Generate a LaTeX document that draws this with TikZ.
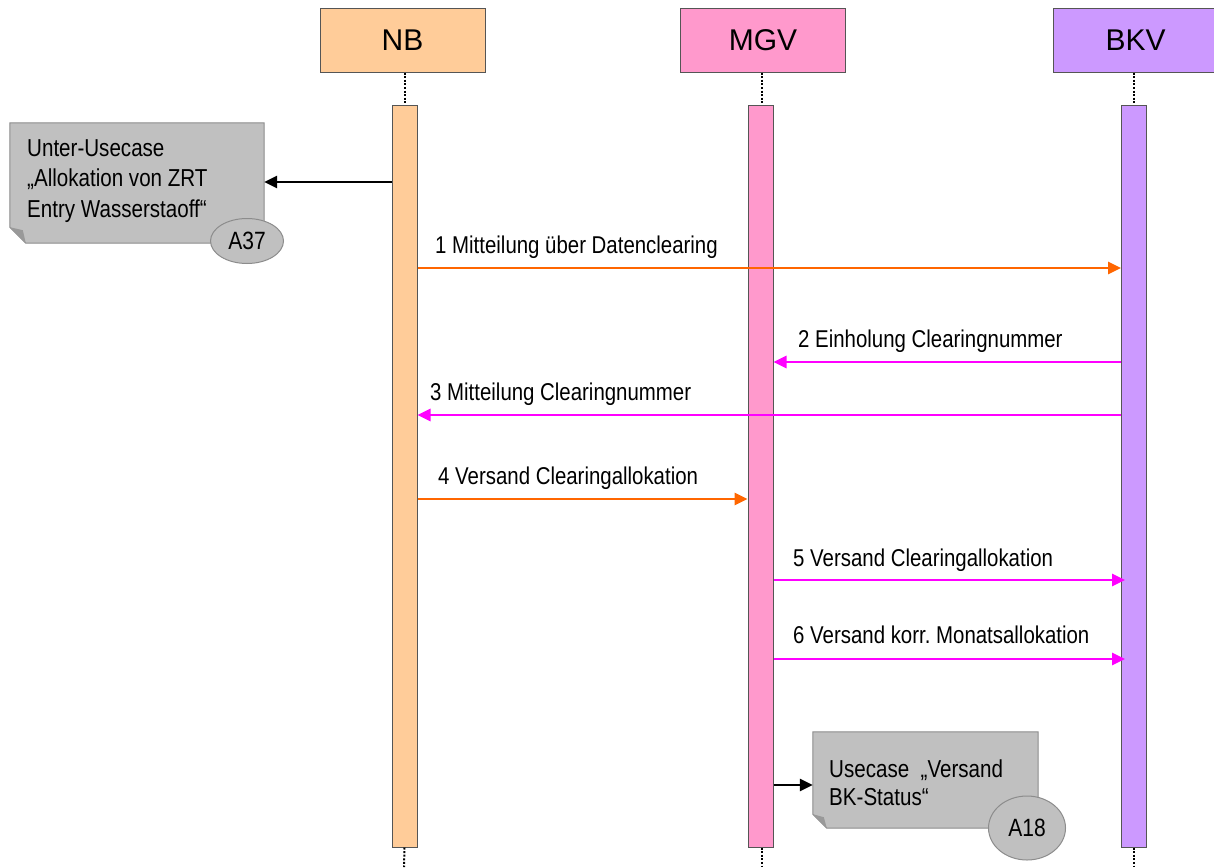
\documentclass[tikz,border=0pt]{standalone}
\usepackage{fontspec}
\setmainfont{Liberation Sans}
\newfontfamily\narrowsans{Liberation Sans}[FakeStretch=0.84]
\usetikzlibrary{arrows.meta,shapes.geometric}
\definecolor{nbc}{HTML}{FFCC99}
\definecolor{mgvc}{HTML}{FF99CC}
\definecolor{bkvc}{HTML}{CC99FF}
\definecolor{orangeline}{HTML}{FF6600}
\definecolor{magline}{HTML}{FF00FF}
\definecolor{notegray}{HTML}{C0C0C0}
\definecolor{noteborder}{HTML}{8C8C8C}
\definecolor{boxborder}{HTML}{555555}
\frenchspacing
\begin{document}
\begin{tikzpicture}[x=1pt,y=-1pt,
  hdr/.style={draw=boxborder,line width=1pt,inner sep=0pt,minimum width=165pt,minimum height=63pt,
    font=\fontsize{30}{34}\selectfont},
  actbar/.style={draw=boxborder,line width=1pt,inner sep=0pt,minimum width=25pt,minimum height=742pt},
  lifeline/.style={line width=2pt,dash pattern=on 2pt off 1.6pt},
  msglabel/.style={anchor=base west,inner sep=0pt,font=\narrowsans\fontsize{24.3}{28}\selectfont},
  msgorange/.style={draw=orangeline,line width=2.7pt,-{Triangle[length=13pt,width=12pt]}},
  msgmag/.style={draw=magline,line width=2.7pt,-{Triangle[length=13pt,width=12pt]}},
  callarrow/.style={draw=black,line width=2.7pt,-{Triangle[length=13pt,width=12pt]}},
  notearea/.style={draw=none,fill=none,inner sep=0pt},
  notetext/.style={anchor=base west,inner sep=0pt,align=left,font=\narrowsans\fontsize{24.5}{30.5}\selectfont},
  refoval/.style={ellipse,draw=noteborder,fill=notegray,line width=1pt,inner sep=0pt,font=\narrowsans\fontsize{25}{28}\selectfont}
]
\useasboundingbox (0,0) rectangle (1214,867);

% headers
\node[hdr,fill=nbc] (nb) at (402.5,40.5) {NB};
\node[hdr,fill=mgvc] (mgv) at (763,40.5) {MGV};
\node[hdr,fill=bkvc] (bkv) at (1135.5,40.5) {BKV};

% activation bars
\node[actbar,fill=nbc] (nbbar) at (404.5,476) {};
\node[actbar,fill=mgvc] (mgvbar) at (760.5,476) {};
\node[actbar,fill=bkvc] (bkvbar) at (1134,476) {};

% lifelines
\coordinate (nbend) at (404,867);
\coordinate (mgvend) at (762,867);
\coordinate (bkvend) at (1134,867);
\draw[lifeline] (nb.south -| nbbar.north) -- (nbbar.north);
\draw[lifeline] (nbbar.south) -- (nbend);
\draw[lifeline] (mgv.south -| mgvend) -- (mgvbar.north -| mgvend);
\draw[lifeline] (mgvbar.south -| mgvend) -- (mgvend);
\draw[lifeline] (bkv.south -| bkvbar.north) -- (bkvbar.north);
\draw[lifeline] (bkvbar.south) -- (bkvend);

% note A37
\node[notearea,minimum width=254pt,minimum height=120pt] (n37) at (137,183) {};
\fill[notegray] (n37.north west) -- (n37.north east) -- (n37.south east) -- ([xshift=16pt]n37.south west) -- ([yshift=16pt]n37.south west) -- cycle;
\draw[noteborder,line width=1pt] (n37.north west) -- (n37.north east) -- (n37.south east) -- ([xshift=16pt]n37.south west) -- ([yshift=16pt]n37.south west) -- cycle;
\fill[gray!80] ([yshift=16pt]n37.south west) -- ([xshift=16pt]n37.south west) -- ([xshift=13pt,yshift=13pt]n37.south west) -- cycle;
\node[notetext] (t37) at (27,217) {Unter-Usecase\\„Allokation von ZRT\\Entry Wasserstaoff“};
\node[refoval,minimum width=73pt,minimum height=45pt] (e37) at (247,241) {A37};

% note A18
\node[notearea,minimum width=225pt,minimum height=96pt] (n18) at (925.5,780) {};
\fill[notegray] (n18.north west) -- (n18.north east) -- (n18.south east) -- ([xshift=14pt]n18.south west) -- ([yshift=14pt]n18.south west) -- cycle;
\draw[noteborder,line width=1pt] (n18.north west) -- (n18.north east) -- (n18.south east) -- ([xshift=14pt]n18.south west) -- ([yshift=14pt]n18.south west) -- cycle;
\fill[gray!80] ([yshift=14pt]n18.south west) -- ([xshift=14pt]n18.south west) -- ([xshift=11pt,yshift=11pt]n18.south west) -- cycle;
\node[notetext,font=\narrowsans\fontsize{24.5}{28}\selectfont] (t18) at (829,805) {Usecase \ „Versand\\BK-Status“};
\node[refoval,minimum width=77pt,minimum height=64pt] (e18) at (1027,828) {A18};

% call arrows to notes
\draw[callarrow] (nbbar.west |- 0,182) -- (n37.east |- 0,182);
\draw[callarrow] (mgvbar.east |- 0,785) -- (n18.west |- 0,785);

% messages
\draw[msgorange] (nbbar.east |- 0,268) -- (bkvbar.west |- 0,268);
\node[msglabel] (l1) at (435,253) {1 Mitteilung über Datenclearing};

\draw[msgmag] (bkvbar.west |- 0,362) -- (mgvbar.east |- 0,362);
\node[msglabel] (l2) at (798,347) {2 Einholung Clearingnummer};

\draw[msgmag] (bkvbar.west |- 0,415) -- (nbbar.east |- 0,415);
\node[msglabel] (l3) at (430,400) {3 Mitteilung Clearingnummer};

\draw[msgorange] (nbbar.east |- 0,499) -- (mgvbar.west |- 0,499);
\node[msglabel] (l4) at (438,484) {4 Versand Clearingallokation};

\draw[msgmag] (mgvbar.east |- 0,580) -- ([xshift=4pt]bkvbar.west |- 0,580);
\node[msglabel] (l5) at (793,566) {5 Versand Clearingallokation};

\draw[msgmag] (mgvbar.east |- 0,659) -- ([xshift=4pt]bkvbar.west |- 0,659);
\node[msglabel] (l6) at (793,643) {6 Versand korr. Monatsallokation};
\end{tikzpicture}
\end{document}
